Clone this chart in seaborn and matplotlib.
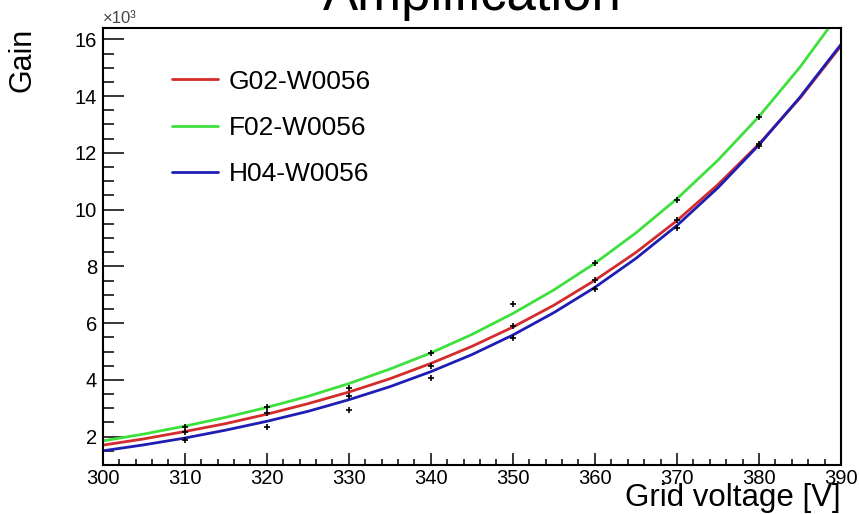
import matplotlib
matplotlib.use("Agg")
import matplotlib.pyplot as plt
import seaborn as sns
from matplotlib.ticker import MultipleLocator

# Gain values in units of 10^3
# fitted curves, every 5 V
curve_volt = [300, 305, 310, 315, 320, 325, 330, 335, 340, 345,
              350, 355, 360, 365, 370, 375, 380, 385, 390]
gain_g02 = [1.70, 1.92, 2.18, 2.46, 2.79, 3.16, 3.57, 4.04, 4.58, 5.18,
            5.86, 6.63, 7.51, 8.49, 9.61, 10.88, 12.31, 13.93, 15.77]
gain_f02 = [1.85, 2.09, 2.37, 2.68, 3.03, 3.42, 3.87, 4.38, 4.95, 5.60,
            6.34, 7.17, 8.11, 9.18, 10.38, 11.74, 13.28, 15.02, 16.99]
gain_h04 = [1.50, 1.71, 1.95, 2.23, 2.54, 2.89, 3.30, 3.76, 4.29, 4.89,
            5.58, 6.37, 7.26, 8.28, 9.44, 10.77, 12.28, 13.96, 15.82]

# measured points
point_volt = [310, 320, 330, 340, 350, 360, 370, 380]
meas_f02 = [2.33, 3.03, 3.71, 4.94, 6.67, 8.13, 10.35, 13.27]
meas_g02 = [2.15, 2.85, 3.44, 4.49, 5.89, 7.53, 9.64, 12.33]
meas_h04 = [1.87, 2.33, 2.95, 4.06, 5.46, 7.22, 9.36, 12.25]

labels = ["G02-W0056", "F02-W0056", "H04-W0056"]
colors = ["#d42c2c", "#3ee03e", "#1e1eb4"]

sns.set_theme(style="white")
plt.rcParams["font.family"] = ["Liberation Sans", "DejaVu Sans"]
plt.rcParams["text.color"] = "black"
plt.rcParams["axes.labelcolor"] = "black"
plt.rcParams["xtick.color"] = "black"
plt.rcParams["ytick.color"] = "black"

fig = plt.figure(figsize=(8.59, 5.14), dpi=100)
ax = fig.add_axes([0.1196, 0.0953, 0.8594, 0.8502])

for ys, lab, col in zip([gain_g02, gain_f02, gain_h04], labels, colors):
    sns.lineplot(x=curve_volt, y=ys, color=col, linewidth=2.0, label=lab, ax=ax)

for ys in [meas_f02, meas_g02, meas_h04]:
    sns.scatterplot(x=point_volt, y=ys, marker="+", color="black", s=20,
                    linewidth=1.2, ax=ax, zorder=5)

ax.set_xlim(300, 390)
ax.set_ylim(1.0, 16.4)
ax.xaxis.set_major_locator(MultipleLocator(10))
ax.xaxis.set_minor_locator(MultipleLocator(2))
ax.yaxis.set_major_locator(MultipleLocator(2))
ax.yaxis.set_minor_locator(MultipleLocator(0.5))
ax.tick_params(axis="x", which="major", direction="in", length=8.6, width=1.1,
               labelsize=14.5, pad=3, bottom=True, top=False)
ax.tick_params(axis="x", which="minor", direction="in", length=4.3, width=1.1,
               bottom=True, top=False)
ax.tick_params(axis="y", which="major", direction="in", length=15, width=1.1,
               labelsize=14.5, pad=4, left=True, right=False)
ax.tick_params(axis="y", which="minor", direction="in", length=7.8, width=1.1,
               left=True, right=False)
for sp in ax.spines.values():
    sp.set_color("black")
    sp.set_linewidth(1.5)

ax.set_xlabel("Grid voltage [V]", fontsize=22.5, loc="right")
ax.xaxis.set_label_coords(1.0, -0.042)
ax.set_ylabel("Gain", fontsize=22, loc="top")
ax.yaxis.set_label_coords(-0.089, 1.0)

ax.text(0.0, 1.005, "×10³", transform=ax.transAxes, fontsize=12,
        color="#444444", ha="left", va="bottom")

leg = ax.legend(loc="upper left", bbox_to_anchor=(0.094, 0.905), frameon=False,
                fontsize=19, handlelength=1.74, handletextpad=0.4,
                labelspacing=0.85, borderpad=0, borderaxespad=0)

fig.text(0.5495, 0.98, "Amplification", fontsize=38, ha="center", va="baseline")

fig.savefig("out.png", dpi=100)
